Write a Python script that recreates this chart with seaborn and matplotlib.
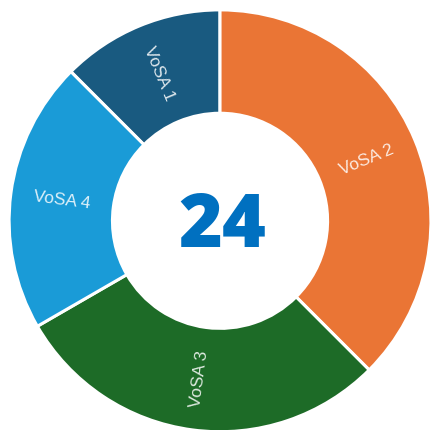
import numpy as np
import matplotlib
matplotlib.use("Agg")
import matplotlib.pyplot as plt
import seaborn as sns

# Dados do gráfico de rosca
categorias = ["VoSA 1", "VoSA 2", "VoSA 3", "VoSA 4"]
valores = [3, 9, 7, 5]
cores = ["#195A80", "#EA7535", "#1D6B27", "#1A9BD7"]
total_txt = str(sum(valores))

sns.set_style("white")
plt.rcParams["font.family"] = ["Liberation Sans", "DejaVu Sans"]

fig = plt.figure(figsize=(4.31, 4.30), dpi=100)
ax = fig.add_axes([0.021, -0.004, 0.979, 0.981])

wedges, _ = ax.pie(
    valores,
    colors=sns.color_palette(cores),
    startangle=135,
    counterclock=False,
    radius=1.0,
    wedgeprops=dict(width=0.49, edgecolor="white", linewidth=2.2),
)

# Rótulos girados no meio do anel
r_txt = 1.0 - 0.49 / 2
for w, nome in zip(wedges, categorias):
    ang = (w.theta1 + w.theta2) / 2
    x = r_txt * np.cos(np.radians(ang))
    y = r_txt * np.sin(np.radians(ang))
    rot = ang % 360
    if 90 < rot < 270:
        rot -= 180
    ax.text(x, y, nome, ha="center", va="center", rotation=rot,
            rotation_mode="anchor", fontsize=12.5, color="white", alpha=0.85)

ax.text(0.01, -0.03, total_txt, ha="center", va="center", fontsize=54,
        fontweight="heavy", color="#0070C0", family=["Open Sans", "DejaVu Sans"])

ax.set_xlim(-1, 1)
ax.set_ylim(-1, 1)
ax.set_aspect("equal")
ax.axis("off")

fig.savefig("out.png", dpi=100)
